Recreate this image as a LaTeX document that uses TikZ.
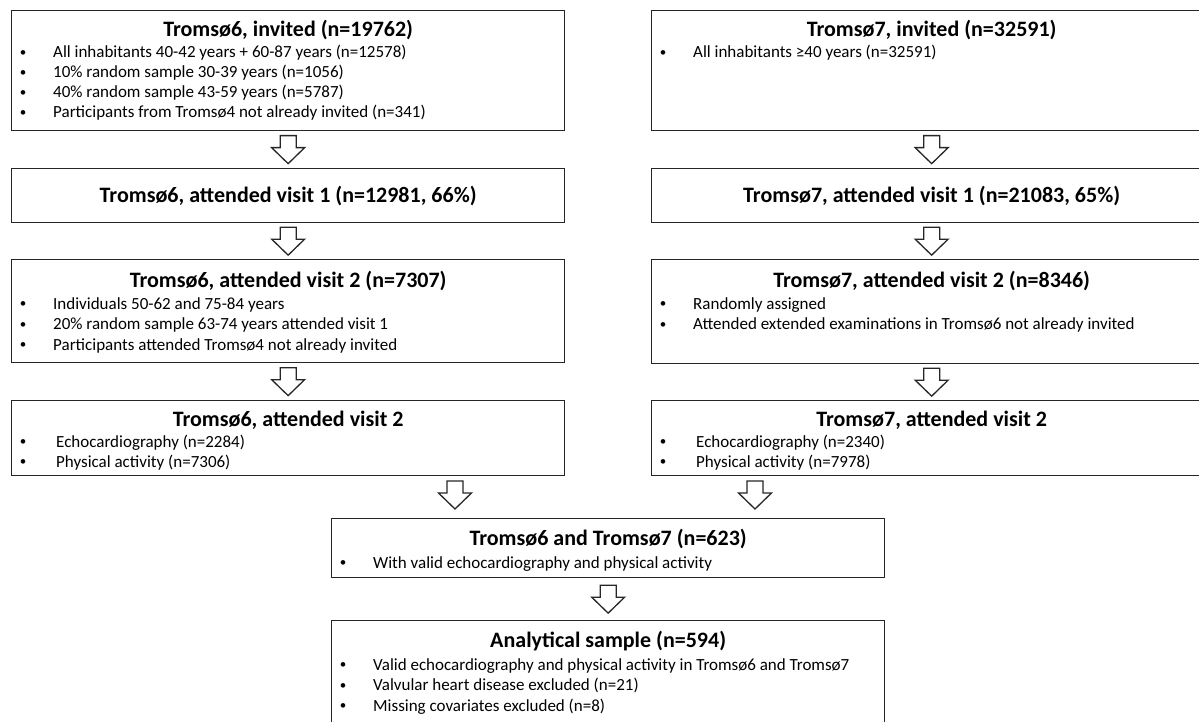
\documentclass[tikz,border=0pt]{standalone}
\usepackage{fontspec}
\setmainfont{Carlito}
\usetikzlibrary{calc}
\newcommand\bl[4]{%
  \node[bul] (#2b) at ($(#1.north west)+(12,#3)+(0,-1.5)$) {\textbullet};
  \node[itm] (#2) at ($(#1.north west)+(42,#3)$) {#4};}
\newcommand\blx[4]{%
  \node[bul] (#2b) at ($(#1.north west)+(12,#3)+(0,-1.5)$) {\textbullet};
  \node[itm] (#2) at ($(#1.north west)+(45,#3)$) {#4};}
\begin{document}
\begin{tikzpicture}[x=1pt,y=-1pt,
  box/.style={draw=black!85,line width=1.3pt,inner sep=0pt,anchor=north west,fill=none},
  ttl/.style={font=\fontsize{22}{26}\selectfont\bfseries,anchor=base,inner sep=0pt},
  bul/.style={font=\fontsize{13}{16}\selectfont,anchor=base,inner sep=0pt},
  itm/.style={font=\fontsize{17}{20}\selectfont,anchor=base west,inner sep=0pt},
  blk/.pic={\draw[line width=1.3pt,draw=black!85,fill=white,line join=miter]
     (-8,-14) -- (8,-14) -- (8,-2) -- (16.5,-2) -- (0,14) -- (-16.5,-2) -- (-8,-2) -- cycle;}
]
\useasboundingbox (0,0) rectangle (1199,722);
\clip (0,0) rectangle (1199,722);

% boxes
\node[box, minimum width=553, minimum height=120] (b1) at (11,10) {};
\node[box, minimum width=560, minimum height=120] (b2) at (651,10) {};
\node[box, minimum width=553, minimum height=54] (b3) at (11,168) {};
\node[box, minimum width=560, minimum height=54] (b4) at (651,168) {};
\node[box, minimum width=553, minimum height=103] (b5) at (11,259) {};
\node[box, minimum width=560, minimum height=104] (b6) at (651,259) {};
\node[box, minimum width=553, minimum height=75] (b7) at (11,400) {};
\node[box, minimum width=560, minimum height=75] (b8) at (651,400) {};
\node[box, minimum width=553, minimum height=59] (b9) at (331,518) {};
\node[box, minimum width=553, minimum height=110] (b10) at (331,620) {};

% titles
\node[ttl] (t1) at ($(b1.north)+(0,27)$) {Tromsø6, invited (n=19762)};
\node[ttl] (t2) at ($(b2.north)+(0,27)$) {Tromsø7, invited (n=32591)};
\node[ttl,anchor=center] (t3) at (b3.center) {Tromsø6, attended visit 1 (n=12981, 66\%)};
\node[ttl,anchor=center] (t4) at (b4.center) {Tromsø7, attended visit 1 (n=21083, 65\%)};
\node[ttl] (t5) at ($(b5.north)+(0,28)$) {Tromsø6, attended visit 2 (n=7307)};
\node[ttl] (t6) at ($(b6.north)+(0,28)$) {Tromsø7, attended visit 2 (n=8346)};
\node[ttl] (t7) at ($(b7.north)+(0,26)$) {Tromsø6, attended visit 2};
\node[ttl] (t8) at ($(b8.north)+(0,26)$) {Tromsø7, attended visit 2};
\node[ttl] (t9) at ($(b9.north)+(0,27)$) {Tromsø6 and Tromsø7 (n=623)};
\node[ttl] (t10) at ($(b10.north)+(0,27)$) {Analytical sample (n=594)};

% bullets
\bl{b1}{i11}{48}{All inhabitants 40-42 years + 60-87 years (n=12578)}
\bl{b1}{i12}{68}{10\% random sample 30-39 years (n=1056)}
\bl{b1}{i13}{88}{40\% random sample 43-59 years (n=5787)}
\bl{b1}{i14}{108}{Participants from Tromsø4 not already invited (n=341)}
\bl{b2}{i21}{48}{All inhabitants ≥40 years (n=32591)}
\bl{b5}{i51}{50}{Individuals 50-62 and 75-84 years}
\bl{b5}{i52}{70.5}{20\% random sample 63-74 years attended visit 1}
\bl{b5}{i53}{91}{Participants attended Tromsø4 not already invited}
\bl{b6}{i61}{50}{Randomly assigned}
\bl{b6}{i62}{70.5}{Attended extended examinations in Tromsø6 not already invited}
\blx{b7}{i71}{47}{Echocardiography (n=2284)}
\blx{b7}{i72}{67}{Physical activity (n=7306)}
\blx{b8}{i81}{47}{Echocardiography (n=2340)}
\blx{b8}{i82}{67}{Physical activity (n=7978)}
\bl{b9}{i91}{50}{With valid echocardiography and physical activity}
\bl{b10}{i101}{50}{Valid echocardiography and physical activity in Tromsø6 and Tromsø7}
\bl{b10}{i102}{70.5}{Valvular heart disease excluded (n=21)}
\bl{b10}{i103}{91}{Missing covariates excluded (n=8)}

% block arrows
\pic at ($(b1.south)!0.5!(b3.north)$) {blk};
\pic at ($(b2.south)!0.5!(b4.north)$) {blk};
\pic at ($(b3.south)!0.5!(b5.north)$) {blk};
\pic at ($(b4.south)!0.5!(b6.north)$) {blk};
\pic at ($(b5.south)!0.5!(b7.north)$) {blk};
\pic at ($(b6.south)!0.5!(b8.north)$) {blk};
\coordinate (m1) at (455,495);
\coordinate (m2) at (755,495);
\pic at (m1) {blk};
\pic at (m2) {blk};
\pic at ($(b9.south)!0.5!(b10.north)$) {blk};
\end{tikzpicture}
\end{document}
